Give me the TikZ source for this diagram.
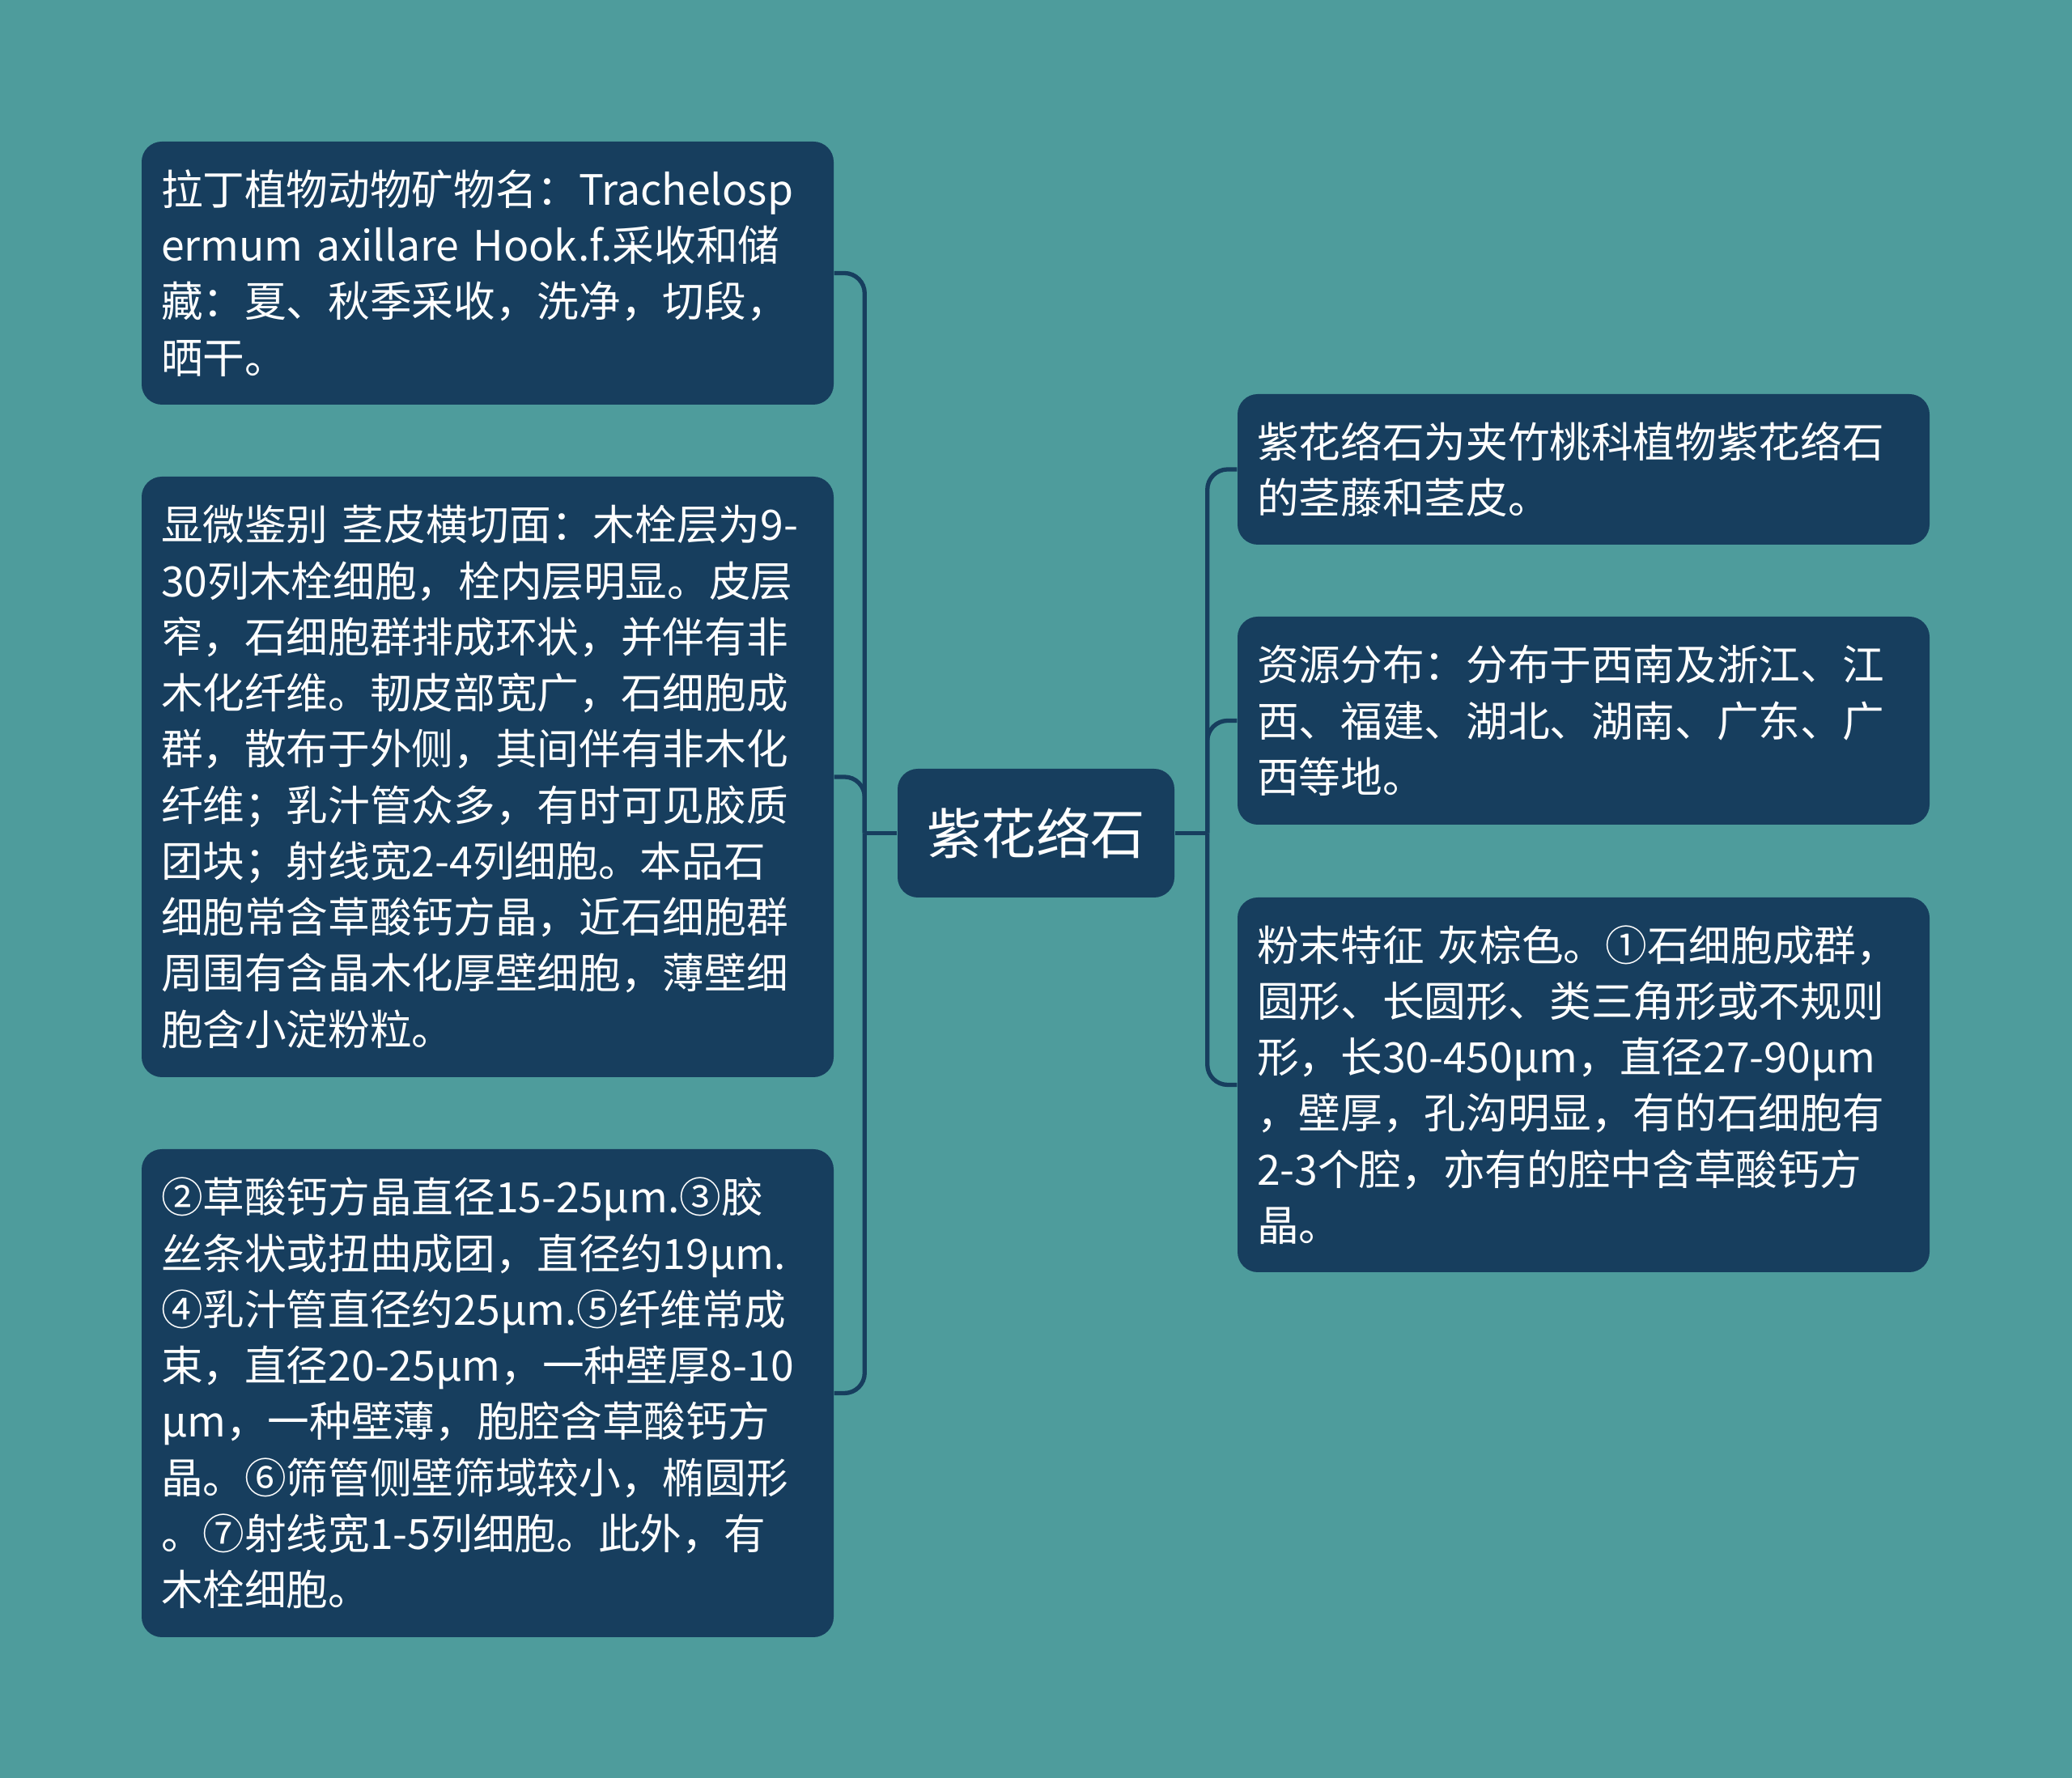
\documentclass[tikz,border=0pt]{standalone}
\usepackage{fontspec}
\setmainfont{Noto Sans CJK SC}
\usepackage{tikz}
\definecolor{bgteal}{HTML}{4E9C9C}
\definecolor{navy}{HTML}{173E5E}
\tikzset{
root/.style={fill=navy,text=white,rounded corners=2.5mm,minimum width=3.42cm,minimum height=1.59cm,font=\fontsize{19.2pt}{24pt}\selectfont},
leaf/.style={fill=navy,text=white,rounded corners=2.5mm,inner xsep=0.24cm,text width=8.07cm,align=left,font=\fontsize{14.7pt}{19.7pt}\selectfont},
link/.style={draw=navy,line width=1.5pt,rounded corners=2.5mm}
}

\begin{document}
\begin{tikzpicture}
\fill[bgteal] (0,0) rectangle (25.6,21.97);
\useasboundingbox (0,0) rectangle (25.6,21.97);

\node[root] (zh) at (12.80,11.675) {紫花络石};

% left side
\node[leaf,minimum height=3.25cm] (lat) at (6.025,18.595) {拉丁植物动物矿物名：Trachelosp\\ermum axillare Hook.f.采收和储\\藏：夏、秋季采收，洗净，切段，\\晒干。};
\node[leaf,minimum height=7.42cm] (micro) at (6.025,12.37) {显微鉴别 茎皮横切面：木栓层为9-\\30列木栓细胞，栓内层明显。皮层\\窄，石细胞群排成环状，并伴有非\\木化纤维。韧皮部宽广，石细胞成\\群，散布于外侧，其间伴有非木化\\纤维；乳汁管众多，有时可见胶质\\团块；射线宽2-4列细胞。本品石\\细胞常含草酸钙方晶，近石细胞群\\周围有含晶木化厚壁细胞，薄壁细\\胞含小淀粉粒。};
\node[leaf,minimum height=6.03cm] (powd) at (6.025,4.755) {②草酸钙方晶直径15-25μm.③胶\\丝条状或扭曲成团，直径约19μm.\\④乳汁管直径约25μm.⑤纤维常成\\束，直径20-25μm，一种壁厚8-10\\μm，一种壁薄，胞腔含草酸钙方\\晶。⑥筛管侧壁筛域较小，椭圆形\\。⑦射线宽1-5列细胞。此外，有\\木栓细胞。};

% right side
\node[leaf,minimum height=1.86cm] (src) at (19.565,16.17) {紫花络石为夹竹桃科植物紫花络石\\的茎藤和茎皮。};
\node[leaf,minimum height=2.57cm] (dist) at (19.565,13.065) {资源分布：分布于西南及浙江、江\\西、福建、湖北、湖南、广东、广\\西等地。};
\node[leaf,minimum height=4.63cm] (feat) at (19.565,8.565) {粉末特征 灰棕色。①石细胞成群，\\圆形、长圆形、类三角形或不规则\\形，长30-450μm，直径27-90μm\\，壁厚，孔沟明显，有的石细胞有\\2-3个腔，亦有的腔中含草酸钙方\\晶。};

\draw[link] (zh.west) -- ++(-0.4,0) coordinate (lbus);
\draw[link] (zh.east) -- ++(0.4,0) coordinate (rbus);
\draw[link] (lbus) |- (lat.east);
\draw[link] (lbus) |- (micro.east);
\draw[link] (lbus) |- (powd.east);
\draw[link] (rbus) |- (src.west);
\draw[link] (rbus) |- (dist.west);
\draw[link] (rbus) |- (feat.west);
\end{tikzpicture}
\end{document}
